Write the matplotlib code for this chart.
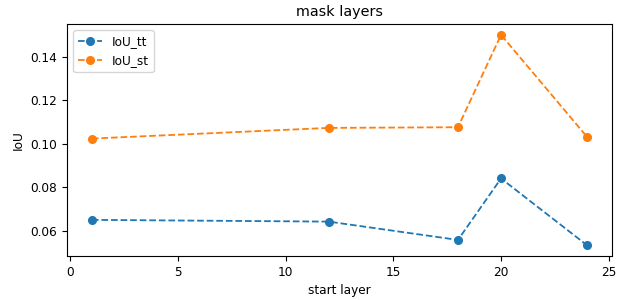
import matplotlib
matplotlib.use("Agg")
import matplotlib.pyplot as plt

plt.rcParams["font.size"] = 8.7

start_layer = [1, 12, 18, 20, 24]
iou_tt = [0.0651, 0.0643, 0.0559, 0.0841, 0.0534]
iou_st = [0.1024, 0.1073, 0.1076, 0.1500, 0.1031]

fig, ax = plt.subplots(figsize=(6.27, 3.0), dpi=100)
ax.plot(start_layer, iou_tt, "o--", label="IoU_tt", markersize=5.5, linewidth=1.3)
ax.plot(start_layer, iou_st, "o--", label="IoU_st", markersize=5.5, linewidth=1.3)

ax.set_xlabel("start layer")
ax.set_ylabel("IoU")
ax.set_title("mask layers", fontsize=10.4)
ax.legend(loc="upper left")

fig.subplots_adjust(left=0.107, right=0.976, top=0.919, bottom=0.147)
fig.savefig("out.png")
